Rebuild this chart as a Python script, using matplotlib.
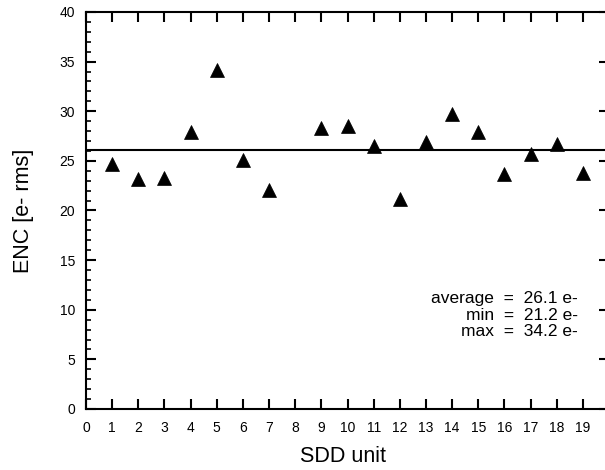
import matplotlib
matplotlib.use("Agg")
import matplotlib.pyplot as plt
from matplotlib.ticker import MultipleLocator

plt.rcParams['font.family'] = ['Liberation Sans', 'DejaVu Sans']

units = [1, 2, 3, 4, 5, 6, 7, 9, 10, 11, 12, 13, 14, 15, 16, 17, 18, 19]
enc = [24.7, 23.2, 23.3, 27.9, 34.2, 25.1, 22.1, 28.3, 28.5, 26.5, 21.2,
       26.9, 29.7, 27.9, 23.7, 25.7, 26.7, 23.8]
average = 26.1
stats_text = ["average  =  26.1 e-", "min  =  21.2 e-", "max  =  34.2 e-"]
xticks = list(range(0, 20))
yticks = list(range(0, 41, 5))

fig = plt.figure(figsize=(6.05, 4.70), dpi=100)
ax = fig.add_axes([86/605, 61/470, 523/605, 397/470])

ax.plot(units, enc, linestyle='none', marker='^', markersize=10,
        color='black', markeredgewidth=0.5)
ax.axhline(average, color='black', linewidth=1.5)

ax.set_xlim(0, 20)
ax.set_ylim(0, 40)
ax.set_xticks(xticks)
ax.set_xticklabels([str(t) for t in xticks])
ax.set_yticks(yticks)
ax.yaxis.set_minor_locator(MultipleLocator(1))

for s in ax.spines.values():
    s.set_linewidth(1.5)

ax.tick_params(axis='x', which='major', direction='in', length=7, width=1.5,
               top=True, labelsize=10, pad=9)
ax.tick_params(axis='y', which='major', direction='in', length=7, width=1.5,
               right=True, labelsize=10, pad=8)
ax.tick_params(axis='y', which='minor', direction='in', length=3.5, width=1.2,
               right=False)

ax.set_xlabel("SDD unit", fontsize=15.5)
ax.set_ylabel("ENC [e- rms]", fontsize=15.5)
ax.xaxis.label.set_va('center')
ax.yaxis.label.set_va('center')
ax.xaxis.set_label_coords((343 - 86) / 523, (409 - 457) / 397)
ax.yaxis.set_label_coords((24 - 86) / 523, 0.5)

ys = [299, 315, 331]
for t, yp in zip(stats_text, ys):
    ax.text((578 - 86) / 523, (409 - yp) / 397, t, transform=ax.transAxes,
            ha='right', va='center', fontsize=12.5)

fig.savefig("out.png", dpi=100)
